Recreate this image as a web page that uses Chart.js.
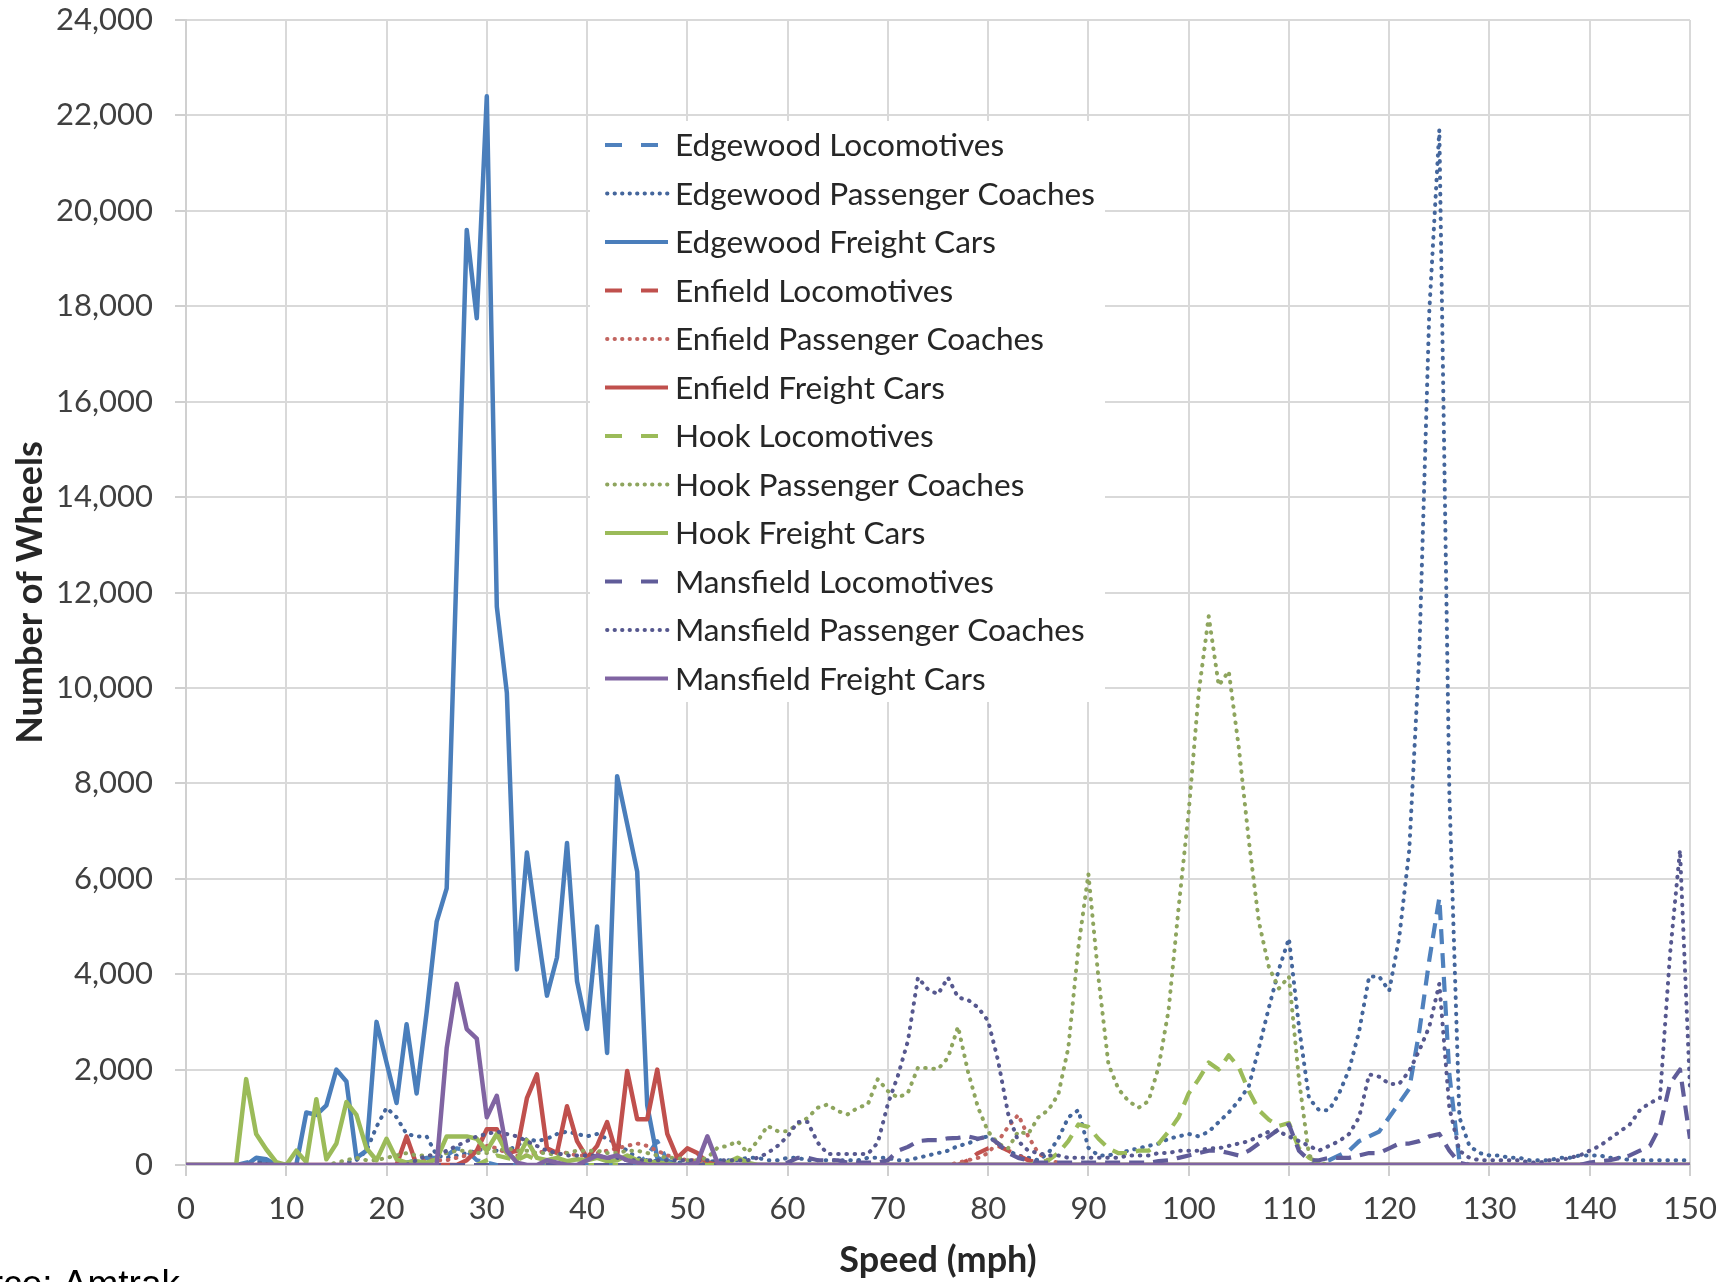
<!DOCTYPE html>
<html>
<head>
<meta charset="utf-8">
<script src="https://cdn.jsdelivr.net/npm/chart.js@4.4.1/dist/chart.umd.min.js"></script>
<style>
html,body{margin:0;padding:0;background:#ffffff;overflow:hidden}
canvas{display:block}
</style>
</head>
<body>
<canvas id="c" width="1733" height="1282"></canvas>
<script>
// ---- categories: speed in mph ----
const speeds = [
  0,1,2,3,4,5,6,7,8,9,
  10,11,12,13,14,15,16,17,18,19,
  20,21,22,23,24,25,26,27,28,29,
  30,31,32,33,34,35,36,37,38,39,
  40,41,42,43,44,45,46,47,48,49,
  50,51,52,53,54,55,56,57,58,59,
  60,61,62,63,64,65,66,67,68,69,
  70,71,72,73,74,75,76,77,78,79,
  80,81,82,83,84,85,86,87,88,89,
  90,91,92,93,94,95,96,97,98,99,
  100,101,102,103,104,105,106,107,108,109,
  110,111,112,113,114,115,116,117,118,119,
  120,121,122,123,124,125,126,127,128,129,
  130,131,132,133,134,135,136,137,138,139,
  140,141,142,143,144,145,146,147,148,149,
  150
];

// ---- series values (number of wheels at each speed) ----
const edgewoodLocomotives = [
  0,0,0,0,0,0,50,100,80,0,
  0,0,0,0,0,0,0,0,0,0,
  0,0,50,100,150,150,200,350,300,100,
  50,0,0,0,0,0,0,0,0,0,
  0,0,0,0,0,0,200,500,100,0,
  0,0,0,0,0,0,0,0,0,0,
  0,0,0,0,0,0,0,0,0,0,
  0,0,0,0,0,0,0,0,0,0,
  0,0,0,0,0,0,0,0,0,0,
  0,0,0,0,0,0,0,0,0,0,
  0,0,0,0,0,0,0,0,0,0,
  0,0,0,50,100,200,300,500,600,700,
  1000,1300,1600,2800,4300,5600,1900,100,0,0,
  0,0,0,0,0,0,0,0,0,0,
  0,0,0,0,0,0,0,0,0,0,
  0
];
const edgewoodPassengerCoaches = [
  0,0,0,0,0,0,0,50,50,0,
  0,0,0,0,0,0,50,100,300,800,
  1200,1000,650,600,600,200,150,200,250,300,
  350,300,300,400,550,500,550,650,700,650,
  600,650,550,450,300,150,100,80,50,50,
  50,50,50,100,100,100,150,150,100,100,
  150,150,100,100,100,100,100,100,150,150,
  150,100,100,150,200,250,300,400,450,550,
  600,450,300,200,150,100,250,550,1000,1150,
  360,200,200,250,300,350,400,450,550,600,
  650,600,700,900,1100,1350,1650,2450,3300,4100,
  4750,2900,1400,1150,1150,1500,2000,2800,3950,3950,
  3650,4770,6600,10700,17900,21700,7800,1000,400,250,
  200,200,150,150,100,100,100,150,150,200,
  200,200,150,150,100,100,100,100,100,100,
  100
];
const edgewoodFreightCars = [
  0,0,0,0,0,0,0,150,120,0,
  0,0,1100,1050,1250,2000,1750,150,300,3000,
  2150,1300,2950,1500,3200,5100,5800,12600,19600,17750,
  22400,11700,9900,4100,6550,5000,3550,4350,6750,3850,
  2850,5000,2350,8150,7150,6150,1250,150,50,0,
  0,0,0,0,0,0,0,0,0,0,
  0,0,0,0,0,0,0,0,0,0,
  0,0,0,0,0,0,0,0,0,0,
  0,0,0,0,0,0,0,0,0,0,
  0,0,0,0,0,0,0,0,0,0,
  0,0,0,0,0,0,0,0,0,0,
  0,0,0,0,0,0,0,0,0,0,
  0,0,0,0,0,0,0,0,0,0,
  0,0,0,0,0,0,0,0,0,0,
  0,0,0,0,0,0,0,0,0,0,
  0
];
const enfieldLocomotives = [
  0,0,0,0,0,0,0,0,0,0,
  0,0,0,0,0,0,0,0,0,0,
  0,0,0,0,0,0,0,0,0,0,
  0,0,0,0,0,0,0,0,0,0,
  0,0,0,0,0,0,0,0,0,0,
  0,0,0,0,0,0,0,0,0,0,
  0,0,0,0,0,0,0,0,0,0,
  0,0,0,0,0,0,0,0,100,250,
  350,400,300,200,100,50,0,0,0,0,
  0,0,0,0,0,0,0,0,0,0,
  0,0,0,0,0,0,0,0,0,0,
  0,0,0,0,0,0,0,0,0,0,
  0,0,0,0,0,0,0,0,0,0,
  0,0,0,0,0,0,0,0,0,0,
  0,0,0,0,0,0,0,0,0,0,
  0
];
const enfieldPassengerCoaches = [
  0,0,0,0,0,0,0,0,0,0,
  0,0,0,0,0,0,0,0,0,0,
  0,0,0,50,100,100,100,150,200,300,
  400,350,250,200,200,250,300,300,250,200,
  200,250,300,350,400,450,400,300,200,150,
  100,100,50,50,0,0,0,0,0,0,
  0,0,0,0,0,0,0,0,0,0,
  0,0,0,0,0,0,0,50,100,150,
  250,500,800,1050,600,250,100,50,0,0,
  0,0,0,0,0,0,0,0,0,0,
  0,0,0,0,0,0,0,0,0,0,
  0,0,0,0,0,0,0,0,0,0,
  0,0,0,0,0,0,0,0,0,0,
  0,0,0,0,0,0,0,0,0,0,
  0,0,0,0,0,0,0,0,0,0,
  0
];
const enfieldFreightCars = [
  0,0,0,0,0,0,0,0,0,0,
  0,0,0,0,0,0,0,0,0,0,
  0,0,600,0,0,0,0,0,100,300,
  750,750,250,300,1400,1900,350,250,1230,500,
  150,400,900,200,1970,960,960,2000,650,150,
  350,250,50,0,0,0,0,0,0,0,
  0,0,0,0,0,0,0,0,0,0,
  0,0,0,0,0,0,0,0,0,0,
  0,0,0,0,0,0,0,0,0,0,
  0,0,0,0,0,0,0,0,0,0,
  0,0,0,0,0,0,0,0,0,0,
  0,0,0,0,0,0,0,0,0,0,
  0,0,0,0,0,0,0,0,0,0,
  0,0,0,0,0,0,0,0,0,0,
  0,0,0,0,0,0,0,0,0,0,
  0
];
const hookLocomotives = [
  0,0,0,0,0,0,0,0,0,0,
  0,0,0,0,0,0,0,0,0,0,
  0,0,0,0,0,0,0,0,0,0,
  100,200,150,100,200,100,50,0,0,0,
  0,0,0,0,0,0,0,0,0,0,
  0,0,0,0,0,0,0,0,0,0,
  0,0,0,0,0,0,0,0,0,0,
  0,0,0,0,0,0,0,0,0,0,
  0,0,0,0,0,50,100,250,500,850,
  800,550,350,250,250,300,300,450,700,1000,
  1500,1800,2150,2000,2300,2050,1550,1150,950,820,
  880,350,150,50,0,0,0,0,0,0,
  0,0,0,0,0,0,0,0,0,0,
  0,0,0,0,0,0,0,0,0,0,
  0,0,0,0,0,0,0,0,0,0,
  0
];
const hookPassengerCoaches = [
  0,0,0,0,0,0,0,0,0,0,
  0,0,0,0,0,50,100,150,100,100,
  150,200,250,200,200,200,250,300,300,250,
  250,300,350,300,300,250,250,200,250,300,
  300,300,250,250,300,300,250,200,150,150,
  100,100,150,360,400,500,260,500,820,710,
  710,850,990,1200,1270,1130,1060,1200,1270,1800,
  1550,1410,1515,2040,2030,2010,2250,2900,1950,1200,
  700,450,350,700,650,1000,1150,1480,2460,4560,
  6100,3930,2110,1590,1340,1200,1340,2050,3250,5400,
  7400,9900,11500,10050,10350,8750,6800,5100,4150,3700,
  3950,1800,200,50,0,0,0,0,0,0,
  0,0,0,0,0,0,0,0,0,0,
  0,0,0,0,0,0,0,0,0,0,
  0,0,0,0,0,0,0,0,0,0,
  0
];
const hookFreightCars = [
  0,0,0,0,0,0,1800,650,330,60,
  0,300,60,1380,120,450,1320,1050,350,100,
  550,120,50,80,50,120,600,600,600,550,
  300,650,250,100,520,150,100,150,80,120,
  100,150,80,100,200,100,80,50,30,0,
  0,0,0,0,50,150,50,0,0,0,
  0,0,0,0,0,0,0,0,0,0,
  0,0,0,0,0,0,0,0,0,0,
  0,0,0,0,0,0,0,0,0,0,
  0,0,0,0,0,0,0,0,0,0,
  0,0,0,0,0,0,0,0,0,0,
  0,0,0,0,0,0,0,0,0,0,
  0,0,0,0,0,0,0,0,0,0,
  0,0,0,0,0,0,0,0,0,0,
  0,0,0,0,0,0,0,0,0,0,
  0
];
const mansfieldLocomotives = [
  0,0,0,0,0,0,0,0,0,0,
  0,0,0,0,0,0,0,0,0,0,
  0,0,0,0,0,0,0,0,0,0,
  0,0,0,0,0,0,0,0,0,0,
  0,0,0,0,0,0,0,0,0,0,
  0,0,0,0,0,0,0,0,0,0,
  50,150,150,100,100,100,50,50,50,50,
  100,300,380,500,520,520,560,570,600,550,
  600,450,250,150,100,50,50,50,50,50,
  50,50,50,50,50,50,50,80,100,150,
  200,250,300,300,250,200,300,450,600,750,
  850,300,100,100,150,150,150,200,250,250,
  350,450,450,500,600,650,300,50,0,0,
  0,0,0,0,0,0,0,0,0,0,
  50,80,100,150,200,300,400,800,1700,2000,
  550
];
const mansfieldPassengerCoaches = [
  0,0,0,0,0,0,0,0,0,0,
  0,0,0,0,0,0,0,0,0,0,
  0,0,0,100,200,200,300,400,500,600,
  650,700,650,600,500,400,300,250,200,200,
  200,200,150,150,100,100,100,100,100,100,
  100,100,100,100,100,100,100,150,250,400,
  600,900,900,470,230,230,230,230,230,470,
  1280,1870,2600,3930,3680,3580,3930,3510,3460,3300,
  3020,2180,1070,500,300,250,200,200,150,150,
  150,150,150,150,200,200,200,250,250,300,
  300,300,350,350,400,450,500,600,700,700,
  600,500,400,300,400,500,650,1000,1900,1850,
  1700,1700,1970,2400,2900,3800,1200,300,150,100,
  100,100,100,100,50,50,100,100,150,200,
  300,400,550,700,850,1150,1300,1400,4400,6600,
  1600
];
const mansfieldFreightCars = [
  0,0,0,0,0,0,0,0,0,0,
  0,0,0,0,0,0,0,0,0,0,
  0,0,0,0,0,0,2450,3800,2850,2650,
  1000,1450,300,50,0,0,100,50,0,0,
  100,200,150,200,100,50,0,0,0,0,
  0,50,600,50,0,0,0,0,0,0,
  0,0,0,0,0,0,0,0,0,0,
  0,0,0,0,0,0,0,0,0,0,
  0,0,0,0,0,0,0,0,0,0,
  0,0,0,0,0,0,0,0,0,0,
  0,0,0,0,0,0,0,0,0,0,
  0,0,0,0,0,0,0,0,0,0,
  0,0,0,0,0,0,0,0,0,0,
  0,0,0,0,0,0,0,0,0,0,
  0,0,0,0,0,0,0,0,0,0,
  0
];

// ---- labels ----
const seriesNames = [
  'Edgewood Locomotives','Edgewood Passenger Coaches','Edgewood Freight Cars',
  'Enfield Locomotives','Enfield Passenger Coaches','Enfield Freight Cars',
  'Hook Locomotives','Hook Passenger Coaches','Hook Freight Cars',
  'Mansfield Locomotives','Mansfield Passenger Coaches','Mansfield Freight Cars'
];
const seriesValues = [
  edgewoodLocomotives, edgewoodPassengerCoaches, edgewoodFreightCars,
  enfieldLocomotives, enfieldPassengerCoaches, enfieldFreightCars,
  hookLocomotives, hookPassengerCoaches, hookFreightCars,
  mansfieldLocomotives, mansfieldPassengerCoaches, mansfieldFreightCars
];
const xAxisTitle = 'Speed (mph)';
const yAxisTitle = 'Number of Wheels';
const sourceNote = 'Source: Amtrak';

// ---- styles ----
const seriesColors = [
  '#4F81BD','#44669C','#4A7EBB',
  '#C0504D','#C26560','#C0504D',
  '#9BBB59','#8EA55E','#9BBB59',
  '#605C99','#56588F','#8064A2'
];
const seriesKinds = ['dash','dot','solid','dash','dot','solid','dash','dot','solid','dash','dot','solid'];

function styleFor(kind) {
  if (kind === 'dash') return {borderDash: [15, 9], borderCapStyle: 'butt', borderWidth: 4.2};
  if (kind === 'dot') return {borderDash: [0.6, 7.6], borderCapStyle: 'round', borderWidth: 4};
  return {borderDash: [], borderCapStyle: 'round', borderWidth: 4.5};
}

const datasets = seriesValues.map((vals, i) => Object.assign({
  label: seriesNames[i],
  data: vals.map((v, j) => ({x: speeds[j], y: v})),
  borderColor: seriesColors[i],
  backgroundColor: seriesColors[i],
  fill: false,
  pointRadius: 0,
  tension: 0,
  borderJoinStyle: 'round',
  order: seriesValues.length - 1 - i,
  kind: seriesKinds[i]
}, styleFor(seriesKinds[i])));

function fmt(v) {
  return String(v).replace(/\B(?=(\d{3})+(?!\d))/g, ',');
}

const boxLegend = {
  id: 'boxLegend',
  afterDatasetsDraw(chart) {
    const ctx = chart.ctx;
    ctx.save();
    ctx.fillStyle = '#ffffff';
    ctx.fillRect(590, 121, 515, 581);
    const x0 = 605, x1 = 668;
    chart.data.datasets.forEach((ds, i) => {
      const y = 145 + i * 48.5;
      ctx.strokeStyle = ds.borderColor;
      ctx.lineWidth = 3.8;
      ctx.beginPath();
      if (ds.kind === 'dash') {
        ctx.setLineDash([]);
        ctx.lineCap = 'butt';
        ctx.moveTo(x0, y); ctx.lineTo(x0 + 17, y);
        ctx.moveTo(x0 + 36, y); ctx.lineTo(x0 + 53, y);
      } else if (ds.kind === 'dot') {
        ctx.setLineDash([0.5, 7]);
        ctx.lineCap = 'round';
        ctx.moveTo(x0 + 2, y); ctx.lineTo(x1, y);
      } else {
        ctx.setLineDash([]);
        ctx.lineCap = 'butt';
        ctx.moveTo(x0, y); ctx.lineTo(x1, y);
      }
      ctx.stroke();
      ctx.setLineDash([]);
      ctx.fillStyle = '#262626';
      ctx.font = '31.6px Lato, "Open Sans", sans-serif';
      ctx.textBaseline = 'middle';
      ctx.textAlign = 'left';
      ctx.fillText(ds.label, 675, y + 1);
    });
    ctx.restore();
  }
};

const sourcePlugin = {
  id: 'sourceNote',
  afterDraw(chart) {
    const ctx = chart.ctx;
    ctx.save();
    ctx.fillStyle = '#000000';
    ctx.font = '37px "Liberation Sans", Arial, sans-serif';
    ctx.textBaseline = 'alphabetic';
    ctx.textAlign = 'left';
    ctx.fillText(sourceNote, -75, 1296);
    ctx.restore();
  }
};

const tickFont = {family: 'Lato, "Open Sans", sans-serif', size: 31};
const titleFont = {family: 'Lato, "Open Sans", sans-serif', size: 36, weight: 'bold'};
const gridStyle = {color: '#D9D9D9', lineWidth: 2, tickLength: 11, tickColor: '#CFCFCF', tickWidth: 2};

new Chart(document.getElementById('c').getContext('2d'), {
  type: 'line',
  data: {datasets},
  options: {
    responsive: false,
    animation: false,
    devicePixelRatio: 1,
    layout: {padding: {top: 20, right: 43, bottom: 0, left: 0}},
    plugins: {legend: {display: false}, tooltip: {enabled: false}},
    scales: {
      x: {
        type: 'linear', min: 0, max: 150,
        ticks: {stepSize: 10, font: tickFont, color: '#404040', padding: 14, maxRotation: 0, autoSkip: false},
        grid: gridStyle,
        border: {display: true, color: '#D0D0D0', width: 2},
        title: {display: true, text: xAxisTitle, font: titleFont, color: '#262626', padding: {top: 0, bottom: 0}},
        afterFit: s => { s.height = 117; }
      },
      y: {
        type: 'linear', min: 0, max: 24000,
        ticks: {stepSize: 2000, font: tickFont, color: '#404040', padding: 22, callback: v => fmt(v)},
        grid: gridStyle,
        border: {display: true, color: '#D0D0D0', width: 2},
        title: {display: true, text: yAxisTitle, font: titleFont, color: '#262626', padding: {top: 9, bottom: 0}},
        afterFit: s => { s.width = 186; s.paddingTop = 0; s.paddingBottom = 0; }
      }
    }
  },
  plugins: [boxLegend, sourcePlugin]
});
</script>
</body>
</html>
